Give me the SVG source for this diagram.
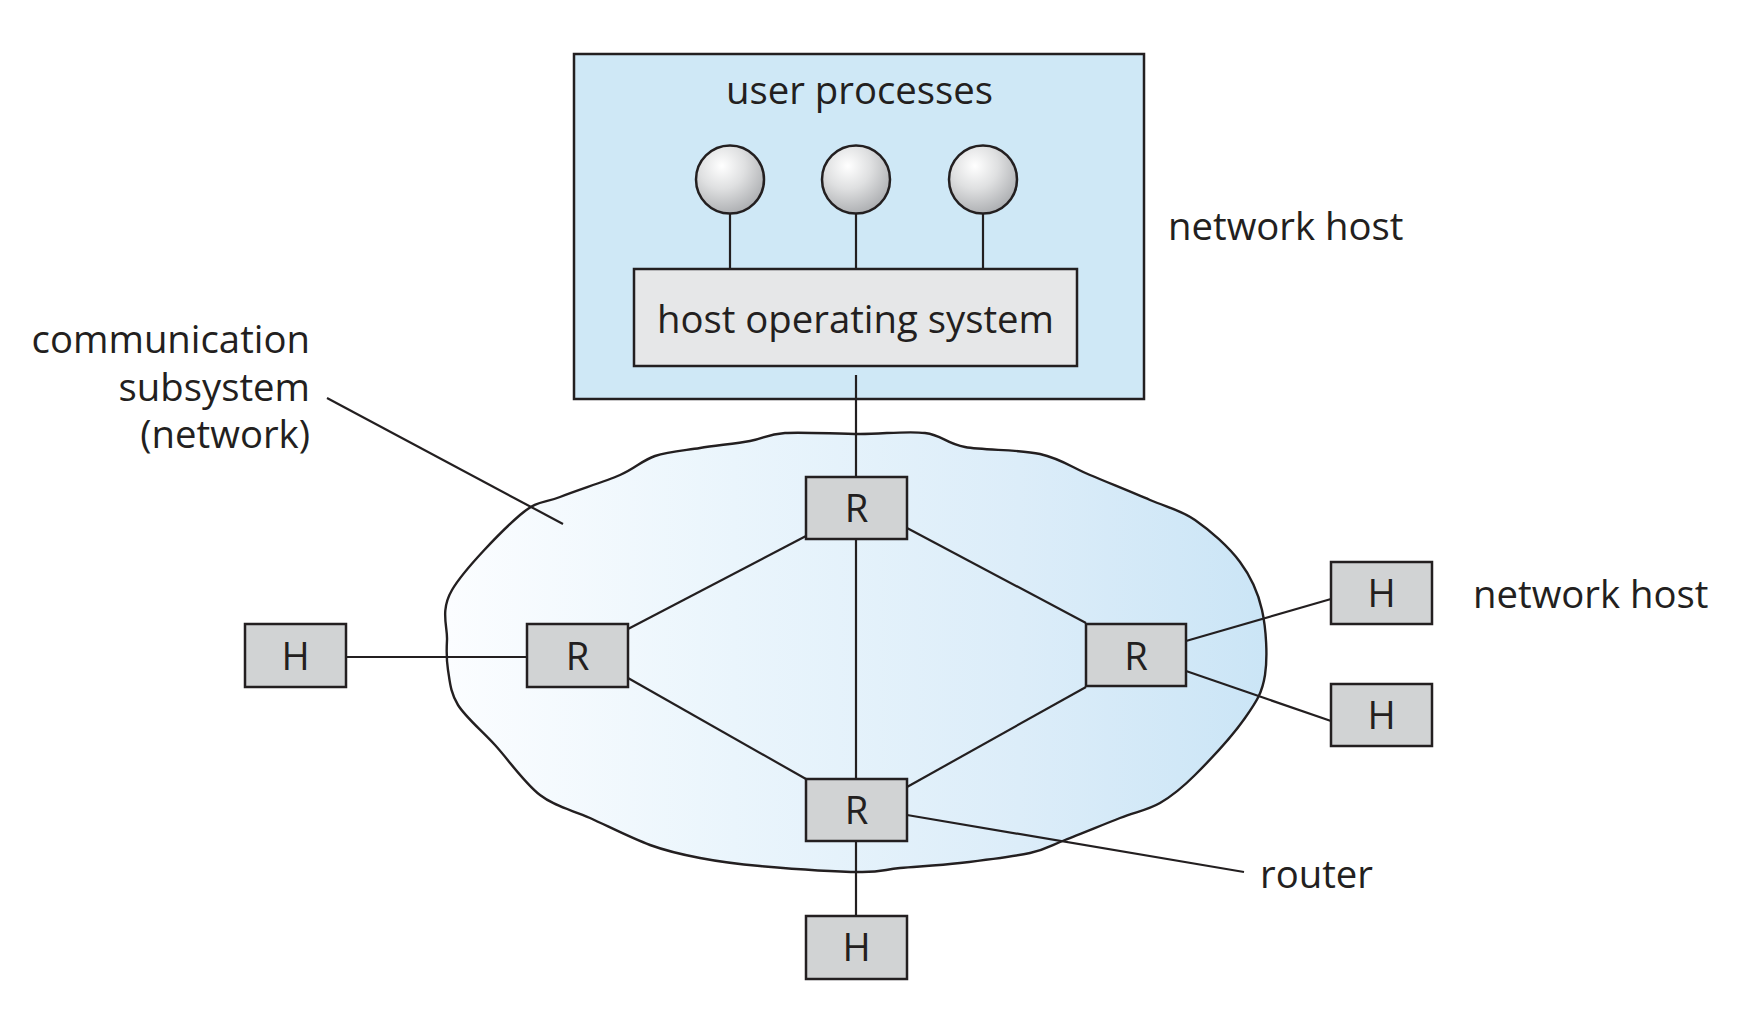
<svg xmlns="http://www.w3.org/2000/svg" width="1756" height="1022" viewBox="0 0 1756 1022">
<defs>
<linearGradient id="cloudGrad" gradientUnits="userSpaceOnUse" x1="447" y1="0" x2="1265" y2="0">
<stop offset="0" stop-color="#fbfdff"/>
<stop offset="0.35" stop-color="#eaf5fc"/>
<stop offset="0.7" stop-color="#dcedf9"/>
<stop offset="1" stop-color="#cbe5f6"/>
</linearGradient>
<radialGradient id="ballGrad" cx="0.38" cy="0.3" r="0.75">
<stop offset="0" stop-color="#ffffff"/>
<stop offset="0.45" stop-color="#dfe0e1"/>
<stop offset="1" stop-color="#a9abae"/>
</radialGradient>
<style>
.txt{font-family:"Open Sans","Noto Sans","Liberation Sans",sans-serif;font-size:38.3px;fill:#231f20}
.mid{text-anchor:middle}
.end{text-anchor:end}
.node{fill:#d1d3d4;stroke:#231f20;stroke-width:2.5}
.ln{stroke:#231f20;stroke-width:2.2;fill:none}
</style>
</defs>
<rect width="1756" height="1022" fill="#ffffff"/>

<g id="network-host-top">
<rect x="574" y="54" width="570" height="345" fill="#cfe8f6" stroke="#231f20" stroke-width="2.5"/>
<text class="txt mid" x="859.5" y="104">user processes</text>
<line class="ln" x1="730" y1="214" x2="730" y2="269"/>
<line class="ln" x1="856" y1="214" x2="856" y2="269"/>
<line class="ln" x1="983" y1="214" x2="983" y2="269"/>
<circle cx="730" cy="179.5" r="34" fill="url(#ballGrad)" stroke="#231f20" stroke-width="2.5"/>
<circle cx="856" cy="179.5" r="34" fill="url(#ballGrad)" stroke="#231f20" stroke-width="2.5"/>
<circle cx="983" cy="179.5" r="34" fill="url(#ballGrad)" stroke="#231f20" stroke-width="2.5"/>
<rect x="634" y="269" width="443" height="97" fill="#e6e7e8" stroke="#231f20" stroke-width="2.5"/>
<text class="txt mid" x="855.5" y="333">host operating system</text>
</g>

<g id="cloud">
<path fill="url(#cloudGrad)" stroke="#231f20" stroke-width="2.4" d="M 447 640 C 447.7 626.7 439.8 610.8 452 590 C 464.2 569.2 502 530.5 520 515 C 538 499.5 543.3 503.7 560 497 C 576.7 490.3 604.2 481.8 620 475 C 635.8 468.2 641.7 460.5 655 456 C 668.3 451.5 684.2 450.5 700 448 C 715.8 445.5 735.8 443.5 750 441 C 764.2 438.5 766.7 434.2 785 433 C 803.3 431.8 836.7 434 860 434 C 883.3 434 907.5 430.8 925 433 C 942.5 435.2 945.8 443.5 965 447 C 984.2 450.5 1019.2 449.3 1040 454 C 1060.8 458.7 1071.7 467.3 1090 475 C 1108.3 482.7 1132.5 492.5 1150 500 C 1167.5 507.5 1180 509.7 1195 520 C 1210 530.3 1228.8 547 1240 562 C 1251.2 577 1257.8 591.2 1262 610 C 1266.2 628.8 1267.8 657 1265 675 C 1262.2 693 1256.7 701.3 1245 718 C 1233.3 734.7 1209.2 760.8 1195 775 C 1180.8 789.2 1172.5 795.8 1160 803 C 1147.5 810.2 1135.8 811.8 1120 818 C 1104.2 824.2 1080 834.2 1065 840 C 1050 845.8 1047.5 849.2 1030 853 C 1012.5 856.8 981.7 860.5 960 863 C 938.3 865.5 916.7 866.5 900 868 C 883.3 869.5 883.3 872.3 860 872 C 836.7 871.7 786.7 868.3 760 866 C 733.3 863.7 718.3 861.5 700 858 C 681.7 854.5 668.3 851.7 650 845 C 631.7 838.3 608.3 826.3 590 818 C 571.7 809.7 555.8 807.2 540 795 C 524.2 782.8 508.7 760 495 745 C 481.3 730 465.8 717.5 458 705 C 450.2 692.5 449.8 680.8 448 670 C 446.2 659.2 446.3 653.3 447 640 Z"/>
</g>

<g id="connectors">
<line class="ln" x1="346" y1="657" x2="527" y2="657"/>
<line class="ln" x1="628" y1="629" x2="806" y2="536"/>
<line class="ln" x1="628" y1="678" x2="806" y2="779"/>
<line class="ln" x1="907" y1="528" x2="1086" y2="623"/>
<line class="ln" x1="907" y1="787" x2="1086" y2="687"/>
<line class="ln" x1="856" y1="539" x2="856" y2="779"/>
<line class="ln" x1="856" y1="375" x2="856" y2="477"/>
<line class="ln" x1="856" y1="841" x2="856" y2="916"/>
<line class="ln" x1="1186" y1="641" x2="1331" y2="599"/>
<line class="ln" x1="1186" y1="671" x2="1331" y2="721"/>
<line class="ln" x1="907" y1="815" x2="1244" y2="872"/>
<line class="ln" x1="327" y1="398" x2="563" y2="524"/>
</g>

<g id="router-top">
<rect class="node" x="806" y="477" width="101" height="62"/>
<text class="txt mid" x="856.5" y="522">R</text>
</g>
<g id="router-left">
<rect class="node" x="527" y="624" width="101" height="63"/>
<text class="txt mid" x="577.5" y="670">R</text>
</g>
<g id="router-right">
<rect class="node" x="1086" y="624" width="100" height="62"/>
<text class="txt mid" x="1136" y="670">R</text>
</g>
<g id="router-bottom">
<rect class="node" x="806" y="779" width="101" height="62"/>
<text class="txt mid" x="856.5" y="824">R</text>
</g>
<g id="host-left">
<rect class="node" x="245" y="624" width="101" height="63"/>
<text class="txt mid" x="295.5" y="670">H</text>
</g>
<g id="host-right-1">
<rect class="node" x="1331" y="562" width="101" height="62"/>
<text class="txt mid" x="1381.5" y="607">H</text>
</g>
<g id="host-right-2">
<rect class="node" x="1331" y="684" width="101" height="62"/>
<text class="txt mid" x="1381.5" y="729">H</text>
</g>
<g id="host-bottom">
<rect class="node" x="806" y="916" width="101" height="63"/>
<text class="txt mid" x="856.5" y="961">H</text>
</g>

<g id="labels">
<text class="txt end" x="310" y="353">communication</text>
<text class="txt end" x="310" y="401">subsystem</text>
<text class="txt end" x="310" y="448">(network)</text>
<text class="txt" x="1168" y="240">network host</text>
<text class="txt" x="1473" y="608">network host</text>
<text class="txt" x="1260" y="888">router</text>
</g>
</svg>
